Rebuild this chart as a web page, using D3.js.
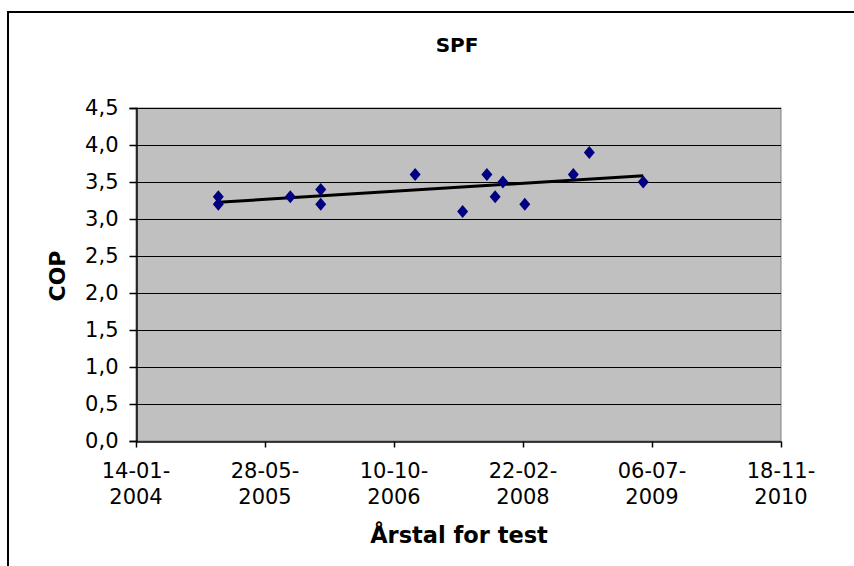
<!DOCTYPE html>
<html><head><meta charset="utf-8">
<script src="https://cdn.jsdelivr.net/npm/d3@7"></script>
<style>body{margin:0;background:#fff}svg{display:block;font-family:"DejaVu Sans",Verdana,sans-serif}</style>
</head><body><svg id="c" width="854" height="566"></svg>
<script>
const testDates = ["2004-11-28","2004-11-28","2005-09-03","2005-12-30","2005-12-30","2006-12-31","2007-07-03","2007-10-05","2007-11-06","2007-12-06","2008-02-29","2008-09-04","2008-11-05","2009-06-02"];
const copValues = [3.3,3.2,3.3,3.4,3.2,3.6,3.1,3.6,3.3,3.5,3.2,3.6,3.9,3.5];
const xTickDates = ["2004-01-14","2005-05-28","2006-10-10","2008-02-22","2009-07-06","2010-11-18"];
const yTicks = [0,0.5,1,1.5,2,2.5,3,3.5,4,4.5];

const svg = d3.select("#c");
const L=136,R=781,T=108,B=441;
const parse = d3.utcParse("%Y-%m-%d");
const data = testDates.map((d,i)=>({x:parse(d), y:copValues[i]}));
const xt = xTickDates.map(parse);
const x = d3.scaleUtc().domain([xt[0], xt[xt.length-1]]).range([L,R]);
const y = d3.scaleLinear().domain([0,4.5]).range([B,T]);

svg.append("rect").attr("x",8).attr("y",12).attr("width",900).attr("height",600)
  .attr("fill","none").attr("stroke","#000").attr("stroke-width",2);

svg.append("rect").attr("x",L).attr("y",T).attr("width",R-L).attr("height",B-T)
  .attr("fill","#C0C0C0").attr("stroke","#808080").attr("stroke-width",1);

svg.append("g").selectAll("line").data(yTicks.filter(v=>v>0)).join("line")
  .attr("x1",L).attr("x2",R).attr("y1",d=>Math.round(y(d))+0.5).attr("y2",d=>Math.round(y(d))+0.5)
  .attr("stroke","#000").attr("stroke-width",1);

const fmt = d=>d3.format(".1f")(d).replace(".",",");
const ya = svg.append("g").attr("transform",`translate(${L+0.5},0)`)
  .call(d3.axisLeft(y).tickValues(yTicks).tickFormat(fmt).tickSize(7).tickPadding(11));
ya.select(".domain").attr("stroke","#000").attr("stroke-width",1.5);
ya.selectAll("line").attr("stroke","#000").attr("stroke-width",1.5);
ya.selectAll("text").attr("font-size",21).attr("fill","#000").attr("font-family","DejaVu Sans");

const xa = svg.append("g").attr("transform",`translate(0,${B+0.5})`)
  .call(d3.axisBottom(x).tickValues(xt).tickFormat("").tickSize(6).tickSizeOuter(0));
xa.select(".domain").attr("stroke","#000").attr("stroke-width",1.5);
xa.selectAll("line").attr("stroke","#000").attr("stroke-width",1.5);
const f1 = d3.utcFormat("%d-%m-"), f2 = d3.utcFormat("%Y");
const lab = svg.append("g").selectAll("text").data(xt).join("text")
  .attr("x",d=>x(d)).attr("y",478).attr("text-anchor","middle")
  .attr("font-size",21).attr("fill","#000");
lab.append("tspan").attr("x",d=>x(d)).text(d=>f1(d));
lab.append("tspan").attr("x",d=>x(d)).attr("dy",26).text(d=>f2(d));

const xs = data.map(d=>+d.x), ys = data.map(d=>d.y);
const mx = d3.mean(xs), my = d3.mean(ys);
const slope = d3.sum(xs.map((v,i)=>(v-mx)*(ys[i]-my)))/d3.sum(xs.map(v=>(v-mx)**2));
const x0 = d3.min(xs), x1 = d3.max(xs);
svg.append("line").attr("x1",x(x0)).attr("x2",x(x1))
  .attr("y1",y(my+slope*(x0-mx))).attr("y2",y(my+slope*(x1-mx)))
  .attr("stroke","#000").attr("stroke-width",3);

svg.append("g").selectAll("path").data(data).join("path")
  .attr("transform",d=>`translate(${x(d.x)},${y(d.y)})`)
  .attr("d","M0,-6.5L5.5,0L0,6.5L-5.5,0Z").attr("fill","#000080");

svg.append("text").attr("x",457).attr("y",52).attr("text-anchor","middle")
  .attr("font-size",20).attr("font-weight","bold").text("SPF");
svg.append("text").attr("x",459).attr("y",543).attr("text-anchor","middle")
  .attr("font-size",22.5).attr("font-weight","bold").text("Årstal for test");
svg.append("text").attr("transform","translate(65,276) rotate(-90)").attr("text-anchor","middle")
  .attr("font-size",22).attr("font-weight","bold").text("COP");
</script></body></html>
